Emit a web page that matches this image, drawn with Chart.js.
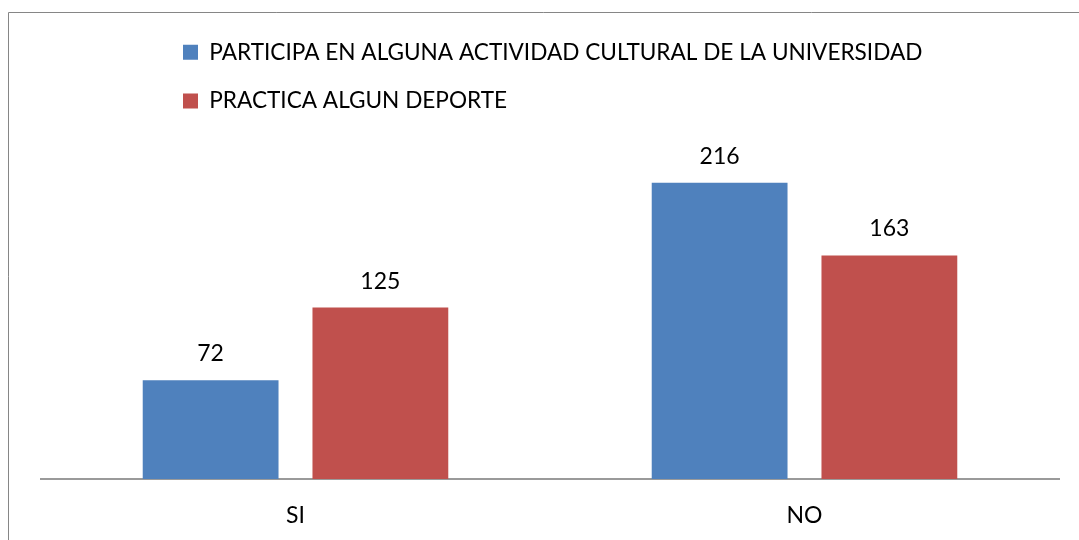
<!DOCTYPE html>
<html>
<head>
<meta charset="utf-8">
<script src="https://cdn.jsdelivr.net/npm/chart.js@4/dist/chart.umd.min.js"></script>
<style>
  html, body { margin: 0; padding: 0; background: #fff; }
  canvas { display: block; }
</style>
</head>
<body>
<canvas id="chart" width="1079" height="540"></canvas>
<script>
const categories = ["SI", "NO"];
const seriesNames = [
  "PARTICIPA EN ALGUNA ACTIVIDAD CULTURAL DE LA UNIVERSIDAD",
  "PRACTICA ALGUN DEPORTE"
];
const cultural = [72, 216];
const deporte = [125, 163];

const FONT = "Lato, 'Liberation Sans', sans-serif";
const FONT_SIZE = 23;

// frame of the original chart object (only top and left edges visible)
const framePlugin = {
  id: "frame",
  beforeDraw(chart) {
    const ctx = chart.ctx;
    ctx.save();
    ctx.strokeStyle = "#868686";
    ctx.lineWidth = 1;
    ctx.beginPath();
    ctx.moveTo(8.5, 540);
    ctx.lineTo(8.5, 12.5);
    ctx.lineTo(1079, 12.5);
    ctx.stroke();
    ctx.restore();
  }
};

// move the legend block so both rows start at the same left edge
const legendShift = {
  id: "legendShift",
  afterLayout(chart) {
    chart.legend.left = 157;
    chart.legend.top = 15;
  }
};

// numbers above the bars
const valueLabels = {
  id: "valueLabels",
  afterDatasetsDraw(chart) {
    const ctx = chart.ctx;
    ctx.save();
    ctx.font = FONT_SIZE + "px " + FONT;
    ctx.fillStyle = "#000";
    ctx.textAlign = "center";
    ctx.textBaseline = "alphabetic";
    chart.data.datasets.forEach((ds, i) => {
      chart.getDatasetMeta(i).data.forEach((bar, j) => {
        ctx.fillText(ds.data[j], bar.x, bar.y - 19);
      });
    });
    ctx.restore();
  }
};

new Chart(document.getElementById("chart"), {
  type: "bar",
  data: {
    labels: categories,
    datasets: [
      {
        label: seriesNames[0],
        data: cultural,
        backgroundColor: "#4F81BD"
      },
      {
        label: seriesNames[1],
        data: deporte,
        backgroundColor: "#C0504D"
      }
    ]
  },
  options: {
    responsive: false,
    animation: false,
    events: [],
    layout: {
      padding: { left: 41, right: 20, top: 29, bottom: 0 }
    },
    categoryPercentage: 0.667,
    barPercentage: 0.8,
    plugins: {
      legend: {
        position: "top",
        align: "start",
        labels: {
          boxWidth: 15,
          boxHeight: 15,
          padding: 26,
          color: "#000",
          font: { size: 22.6, family: FONT }
        }
      },
      tooltip: { enabled: false }
    },
    scales: {
      x: {
        grid: { display: false, drawTicks: false },
        border: { display: true, color: "#9a9a9a", width: 2 },
        ticks: {
          color: "#000",
          padding: 23,
          font: { size: FONT_SIZE, family: FONT }
        },
        afterFit(scale) {
          scale.height = 61;
        }
      },
      y: {
        display: false,
        beginAtZero: true,
        min: 0,
        max: 250
      }
    }
  },
  plugins: [framePlugin, legendShift, valueLabels]
});
</script>
</body>
</html>
